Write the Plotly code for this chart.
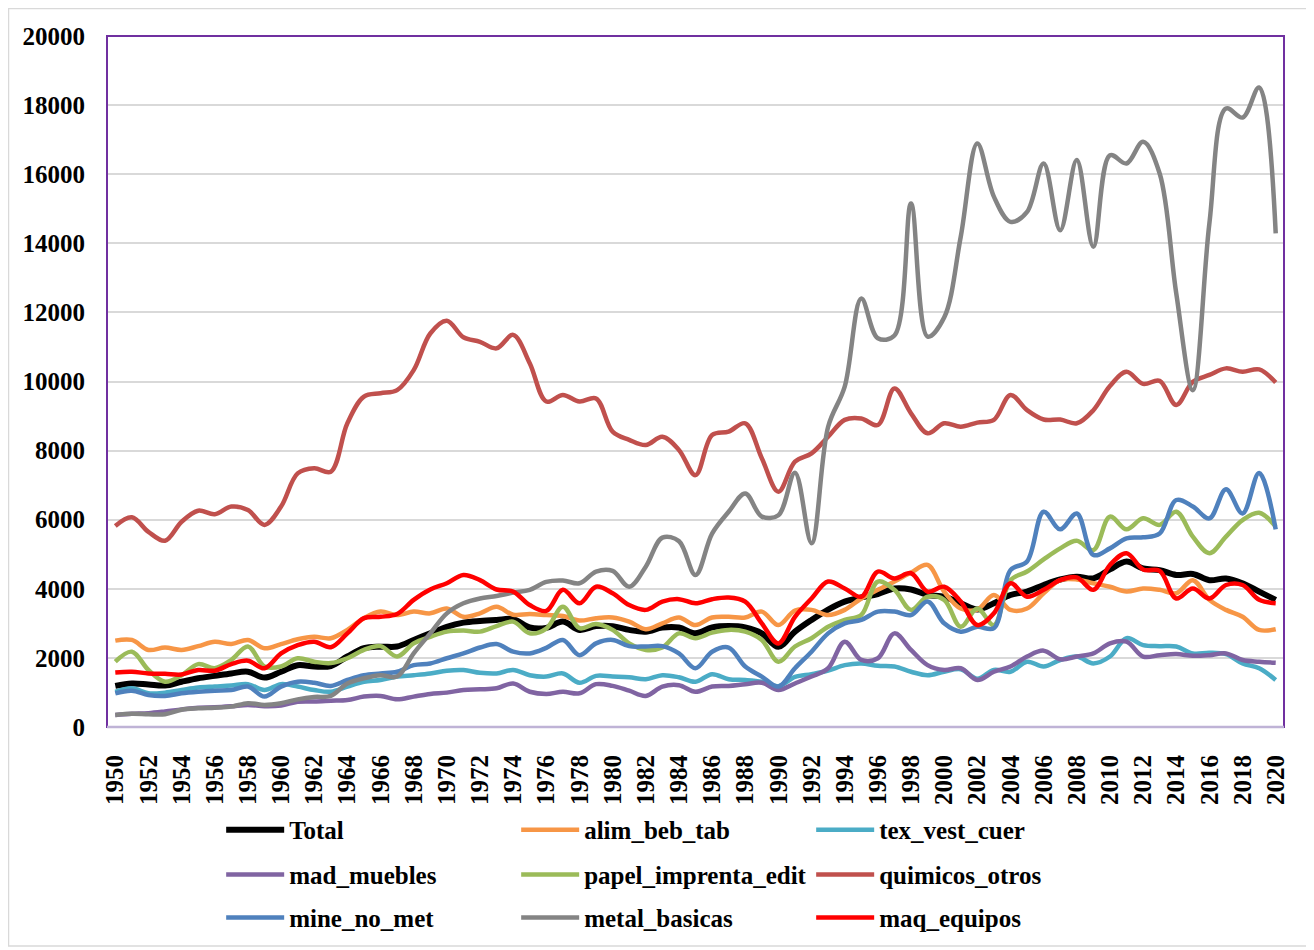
import plotly.graph_objects as go

years = list(range(1950, 2021))

total = [1190, 1260, 1230, 1200, 1310, 1410, 1480, 1550, 1600, 1430,
         1600, 1790, 1750, 1765, 2040, 2280, 2325, 2330, 2520, 2710,
         2900, 3020, 3070, 3100, 3120, 2880, 2870, 3050, 2810, 2920,
         2920, 2810, 2760, 2880, 2880, 2710, 2880, 2920, 2880, 2710,
         2320, 2760, 3100, 3400, 3630, 3750, 3850, 4010, 3980, 3820,
         3770, 3580, 3400, 3580, 3820, 3920, 4110, 4270, 4350, 4300,
         4560, 4790, 4590, 4540, 4400, 4430, 4250, 4300, 4160, 3920,
         3680]

alim_beb_tab = [2500, 2520, 2230, 2300, 2230, 2340, 2470, 2400, 2520, 2280,
                2400, 2540, 2610, 2570, 2810, 3150, 3340, 3240, 3340, 3290,
                3430, 3190, 3290, 3480, 3250, 3270, 3240, 3210, 3080, 3150,
                3170, 3050, 2830, 3000, 3170, 2950, 3170, 3190, 3170, 3340,
                2950, 3370, 3390, 3240, 3390, 3720, 3970, 4210, 4470, 4690,
                3920, 3430, 3400, 3820, 3390, 3430, 3870, 4250, 4270, 4160,
                4060, 3920, 4010, 3970, 3870, 4250, 3680, 3390, 3190, 2810,
                2830]

tex_vest_cuer = [1020, 1120, 975, 995, 1070, 1140, 1170, 1200, 1240, 1070,
                 1240, 1170, 1070, 1020, 1170, 1310, 1360, 1460, 1500, 1550,
                 1630, 1650, 1570, 1550, 1650, 1500, 1460, 1550, 1280, 1480,
                 1460, 1440, 1380, 1500, 1440, 1310, 1530, 1380, 1360, 1310,
                 1180, 1450, 1530, 1630, 1790, 1840, 1770, 1750, 1600, 1500,
                 1600, 1670, 1400, 1650, 1600, 1890, 1750, 1940, 2040, 1840,
                 2040, 2570, 2370, 2340, 2330, 2130, 2150, 2110, 1840, 1700,
                 1360]

mad_muebles = [350, 380, 400, 450, 510, 560, 570, 600, 640, 600,
               620, 730, 740, 760, 780, 880, 900, 800, 880, 955,
               995, 1070, 1090, 1120, 1260, 1020, 955, 1020, 975, 1240,
               1190, 1050, 900, 1170, 1210, 1020, 1170, 1190, 1240, 1280,
               1070, 1260, 1460, 1700, 2470, 1940, 1990, 2710, 2230, 1790,
               1650, 1700, 1360, 1600, 1750, 2040, 2210, 1960, 2040, 2130,
               2420, 2470, 2040, 2080, 2110, 2060, 2080, 2130, 1940, 1890,
               1860]

papel_imprenta_edit = [1890, 2180, 1650, 1310, 1500, 1820, 1700, 1940, 2330, 1750,
                       1750, 1990, 1890, 1850, 1990, 2230, 2340, 2040, 2420, 2610,
                       2760, 2790, 2760, 2920, 3050, 2710, 2850, 3480, 2860, 2980,
                       2810, 2420, 2230, 2300, 2710, 2570, 2730, 2810, 2760, 2520,
                       1890, 2330, 2570, 2900, 3100, 3240, 4210, 3970, 3390, 3770,
                       3680, 2900, 3430, 2950, 4250, 4500, 4850, 5170, 5390, 5120,
                       6090, 5720, 6040, 5850, 6230, 5510, 5030, 5510, 5990, 6200,
                       5800]

quimicos_otros = [5820, 6070, 5650, 5390, 5940, 6260, 6160, 6380, 6280, 5850,
                  6380, 7340, 7490, 7390, 8790, 9560, 9660, 9750, 10330, 11390,
                  11760, 11280, 11150, 10960, 11350, 10530, 9420, 9610, 9420, 9510,
                  8550, 8310, 8160, 8400, 8020, 7290, 8450, 8550, 8790, 7780,
                  6810, 7680, 7920, 8400, 8890, 8930, 8740, 9800, 9080, 8500,
                  8790, 8690, 8810, 8890, 9610, 9170, 8900, 8900, 8790, 9170,
                  9870, 10280, 9930, 10020, 9320, 9990, 10190, 10380, 10280, 10350,
                  9970]

mine_no_met = [975, 1050, 925, 900, 975, 1020, 1050, 1070, 1170, 880,
               1170, 1310, 1280, 1190, 1360, 1500, 1550, 1600, 1790, 1840,
               1990, 2130, 2300, 2400, 2180, 2130, 2290, 2520, 2080, 2420,
               2520, 2340, 2330, 2340, 2130, 1700, 2180, 2300, 1750, 1460,
               1170, 1700, 2180, 2710, 3000, 3100, 3340, 3340, 3240, 3630,
               3000, 2760, 2900, 2860, 4540, 4790, 6230, 5720, 6180, 4980,
               5170, 5460, 5490, 5600, 6570, 6380, 6040, 6880, 6180, 7350,
               5720]

metal_basicas = [350, 380, 370, 370, 500, 540, 560, 590, 690, 640,
                 690, 800, 870, 900, 1260, 1410, 1500, 1460, 2130, 2710,
                 3290, 3580, 3720, 3790, 3890, 3970, 4200, 4240, 4160, 4500,
                 4520, 4060, 4640, 5480, 5380, 4400, 5600, 6230, 6760, 6090,
                 6130, 7360, 5320, 8690, 9850, 12400, 11250, 11330, 15150, 11300,
                 11850, 14190, 16890, 15350, 14620, 14910, 16310, 14380, 16410, 13900,
                 16550, 16310, 16940, 16020, 12550, 9750, 14580, 17900, 17640, 18510,
                 14290]

maq_equipos = [1580, 1600, 1550, 1540, 1520, 1650, 1630, 1820, 1920, 1700,
               2130, 2370, 2470, 2310, 2710, 3150, 3190, 3270, 3680, 3980,
               4160, 4400, 4250, 3980, 3920, 3530, 3360, 3970, 3580, 4060,
               3870, 3530, 3390, 3630, 3700, 3580, 3700, 3750, 3630, 3000,
               2420, 3190, 3720, 4210, 4010, 3770, 4500, 4300, 4450, 3920,
               4060, 3630, 2950, 3290, 4160, 3770, 3970, 4250, 4330, 3970,
               4690, 5030, 4560, 4520, 3720, 4010, 3720, 4110, 4110, 3680,
               3580]

series = [
    ("Total", total, "#000000", 6, "legend"),
    ("alim_beb_tab", alim_beb_tab, "#F79646", 4.5, "legend"),
    ("tex_vest_cuer", tex_vest_cuer, "#4BACC6", 4.5, "legend"),
    ("mad_muebles", mad_muebles, "#8064A2", 4.5, "legend2"),
    ("papel_imprenta_edit", papel_imprenta_edit, "#9BBB59", 4.5, "legend2"),
    ("quimicos_otros", quimicos_otros, "#C0504D", 4.5, "legend2"),
    ("mine_no_met", mine_no_met, "#4F81BD", 4.5, "legend3"),
    ("metal_basicas", metal_basicas, "#848484", 4.5, "legend3"),
    ("maq_equipos", maq_equipos, "#FF0000", 4.5, "legend3"),
]

FONT = "Liberation Serif"

fig = go.Figure()
for name, vals, color, width, leg in series:
    fig.add_trace(go.Scatter(
        x=years, y=vals, name=name, mode="lines",
        line=dict(color=color, width=width, shape="spline", smoothing=1),
        legend=leg,
    ))

# ── legends: one row each, three entries per row ───────────────────────────
def leg_row(y):
    return dict(
        orientation="h", x=0.097, xanchor="left", y=y, yanchor="middle",
        entrywidth=222, entrywidthmode="pixels", itemwidth=58,
        font=dict(family=FONT, size=25, color="black", weight="bold"),
        bgcolor="rgba(0,0,0,0)", tracegroupgap=0,
    )

# ── outer chart border + plot-area frame ───────────────────────────────────
fig.add_shape(type="rect", xref="paper", yref="paper",
              x0=-0.0837, x1=1.0221, y0=-0.3169, y1=1.0398,
              line=dict(color="#D9D9D9", width=1.5), layer="below")
fig.add_shape(type="rect", xref="paper", yref="paper",
              x0=0, x1=1, y0=0, y1=1,
              line=dict(color="#7030A0", width=2), layer="above")
fig.add_shape(type="line", xref="paper", yref="paper",
              x0=0, x1=1, y0=0, y1=0,
              line=dict(color="#BFB3D6", width=2.5), layer="above")

fig.update_layout(
    width=1314, height=950,
    margin=dict(l=99, r=38, t=28, b=231),
    paper_bgcolor="white", plot_bgcolor="white",
    font=dict(family=FONT, size=25, color="black", weight="bold"),
    legend=leg_row(-0.149),
    legend2=leg_row(-0.214),
    legend3=leg_row(-0.276),
    xaxis=dict(range=[1949.5, 2020.5], tickvals=list(range(1950, 2021, 2)),
               tickangle=-90, showgrid=False, zeroline=False, ticks="",
               ticklabelstandoff=22, tickfont=dict(size=25)),
    yaxis=dict(range=[0, 20000], dtick=2000, tickformat="d",
               gridcolor="#D9D9D9", gridwidth=1.5,
               zeroline=False, ticks="", ticklabelstandoff=21,
               tickfont=dict(size=25)),
)

fig.write_html("out.html")
